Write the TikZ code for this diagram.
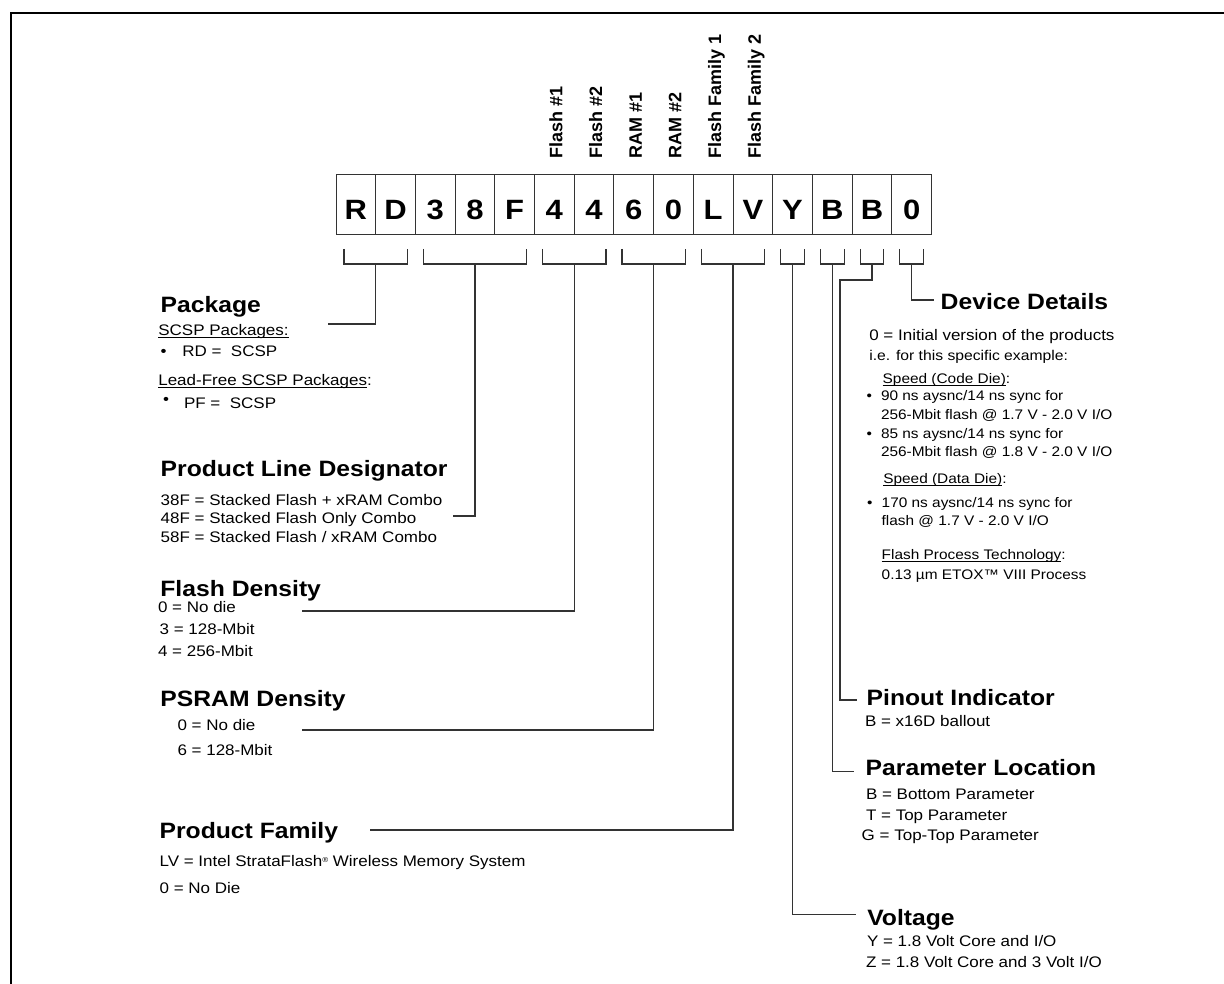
\documentclass[tikz,border=0pt]{standalone}
\usepackage{fontspec}
\setmainfont{Liberation Sans}
\usetikzlibrary{calc}
\newcommand\myul[1]{\setbox0\hbox{#1}\rlap{\rule[-2.6pt]{\wd0}{0.9pt}}\box0}
\newcommand\regmark{{\fontsize{8}{8}\selectfont\raisebox{5pt}{®}}}
\newcommand\mybrk[3]{%
  \draw[conn] ($(b#1.south west)+(8,15)$) -- ($(b#1.south west)+(8,30)$) -- ($(b#2.south east)+(-8,30)$) -- ($(b#2.south east)+(-8,15)$);
  \coordinate (#3) at ($(b#1.south west)!0.5!(b#2.south east)+(0,30)$);
}
\begin{document}
\begin{tikzpicture}[x=1pt,y=-1pt,
  txt/.style={anchor=base west, inner sep=0pt, outer sep=0pt, yscale=0.9, font=\fontsize{17}{20}\selectfont},
  stxt/.style={txt, font=\fontsize{15.4}{18}\selectfont},
  head/.style={anchor=base west, inner sep=0pt, outer sep=0pt, yscale=0.9, font=\fontsize{24.7}{28}\selectfont\bfseries},
  cell/.style={draw=black!80, line width=0.9pt, minimum width=39.7pt, minimum height=60pt, inner sep=0pt, outer sep=0pt, anchor=north west},
  letter/.style={anchor=base, inner sep=0pt, yscale=0.9, font=\fontsize{31}{34}\selectfont\bfseries},
  vlab/.style={rotate=90, anchor=base west, inner sep=0pt, font=\fontsize{18}{20}\selectfont\bfseries},
  conn/.style={draw=black!80, line width=1.2pt},
  frame/.style={line width=2pt}
]
\useasboundingbox (0,0) rectangle (1224,984);
% frame
\coordinate (f0) at (11,984);
\coordinate (f1) at (11,13);
\coordinate (f2) at (1224,13);
\draw[frame] (f0) -- (f1) -- (f2);

% cells
\foreach \c [count=\i] in {R,D,3,8,F,4,4,6,0,L,V,Y,B,B,0} {
  \node[cell] (b\i) at ({336+39.7*(\i-1)},174) {};
  \node[letter] (t\i) at ({336+39.7*(\i-0.5)},220) {\c};
}

% vertical labels
\node[vlab] (v6) at ($(b6.north)+(8,-15)$) {Flash \#1};
\node[vlab] (v7) at ($(b7.north)+(8,-15)$) {Flash \#2};
\node[vlab] (v8) at ($(b8.north)+(8,-15)$) {RAM \#1};
\node[vlab] (v9) at ($(b9.north)+(8,-15)$) {RAM \#2};
\node[vlab] (v10) at ($(b10.north)+(8,-15)$) {Flash Family 1};
\node[vlab] (v11) at ($(b11.north)+(8,-15)$) {Flash Family 2};

% brackets
\mybrk{1}{2}{s1}
\mybrk{3}{5}{s2}
\mybrk{6}{7}{s3}
\mybrk{8}{9}{s4}
\mybrk{10}{11}{s5}
\mybrk{12}{12}{s6}
\mybrk{13}{13}{s7}
\mybrk{14}{14}{s8}
\mybrk{15}{15}{s9}

% connector ends
\coordinate (c1) at (327.7,324);
\coordinate (c2) at (452.7,516);
\coordinate (c3) at (302.4,611);
\coordinate (c4) at (302.4,730);
\coordinate (c5) at (369.8,830);
\coordinate (c6) at (856,914.3);
\coordinate (c7) at (854,771.7);
\coordinate (c8a) at (840,280);
\coordinate (c8) at (856.7,700);
\coordinate (c9) at (934,300);
\draw[conn] (s1) |- (c1);
\draw[conn] (s2) |- (c2);
\draw[conn] (s3) |- (c3);
\draw[conn] (s4) |- (c4);
\draw[conn] (s5) |- (c5);
\draw[conn] (s6) |- (c6);
\draw[conn] (s7) |- (c7);
\draw[conn] (s8) |- (c8a) |- (c8);
\draw[conn] (s9) |- (c9);

% Package
\node[head] (pkg) at (160.7,312.3) {Package};
\node[txt] (pkg1) at (158.3,335.5) {\myul{SCSP Packages:}};
\node[txt] (pkg2b) at (160.7,357) {•};
\node[txt] (pkg2) at (182.3,357) {RD =\ \ SCSP};
\node[txt] (pkg3) at (158.3,385) {\myul{Lead-Free SCSP Packages}:};
\node[txt] (pkg4b) at (163,404) {•};
\node[txt] (pkg4) at (184,408) {PF =\ \ SCSP};

% Product Line Designator
\node[head] (pld) at (160.7,476.7) {Product Line Designator};
\node[txt] (pld1) at (160.7,505) {38F = Stacked Flash + xRAM Combo};
\node[txt] (pld2) at (160.7,523.5) {48F = Stacked Flash Only Combo};
\node[txt] (pld3) at (160.7,542.7) {58F = Stacked Flash / xRAM Combo};

% Flash Density
\node[head] (fd) at (160.4,596) {Flash Density};
\node[txt] (fd1) at (158,612.7) {0 = No die};
\node[txt] (fd2) at (159.6,634) {3 = 128-Mbit};
\node[txt] (fd3) at (158,656) {4 = 256-Mbit};

% PSRAM Density
\node[head] (pd) at (160.4,706.7) {PSRAM Density};
\node[txt] (pd1) at (177.5,730.7) {0 = No die};
\node[txt] (pd2) at (177.5,755) {6 = 128-Mbit};

% Product Family
\node[head] (pf) at (159.6,838) {Product Family};
\node[txt] (pf1) at (159.6,866.7) {LV = Intel StrataFlash\regmark\ Wireless Memory System};
\node[txt] (pf2) at (159.6,893.3) {0 = No Die};

% Device Details
\node[head] (dd) at (940.7,309.3) {Device Details};
\node[txt] (dd1) at (869.3,340.7) {0 = Initial version of the products};
\node[stxt, font=\fontsize{15.7}{18}\selectfont] (dd2) at (869.3,360) {i.e. for this specific example:};
\node[stxt] (dd3) at (882.7,383.3) {\myul{Speed (Code Die)}:};
\node[stxt] (dd4b) at (866.7,400.7) {•};
\node[stxt] (dd4) at (881,400.7) {90 ns aysnc/14 ns sync for};
\node[stxt] (dd5) at (881,419.3) {256-Mbit flash @ 1.7 V - 2.0 V I/O};
\node[stxt] (dd6b) at (866.7,438.5) {•};
\node[stxt] (dd6) at (881,438.5) {85 ns aysnc/14 ns sync for};
\node[stxt] (dd7) at (881,456) {256-Mbit flash @ 1.8 V - 2.0 V I/O};
\node[stxt] (dd8) at (883.3,483.3) {\myul{Speed (Data Die)}:};
\node[stxt] (dd9b) at (867,507.3) {•};
\node[stxt] (dd9) at (881.7,507.3) {170 ns aysnc/14 ns sync for};
\node[stxt] (dd10) at (881.7,525) {flash @ 1.7 V - 2.0 V I/O};
\node[stxt] (dd11) at (881.7,559.3) {\myul{Flash Process Technology}:};
\node[stxt] (dd12) at (881.7,579) {0.13 µm ETOX™ VIII Process};

% Pinout Indicator
\node[head] (pi) at (866.7,705.7) {Pinout Indicator};
\node[txt] (pi1) at (865,726.7) {B = x16D ballout};

% Parameter Location
\node[head] (pl) at (865.7,775.7) {Parameter Location};
\node[txt] (pl1) at (866,799.3) {B = Bottom Parameter};
\node[txt] (pl2) at (866,820) {T = Top Parameter};
\node[txt] (pl3) at (861.7,840.7) {G = Top-Top Parameter};

% Voltage
\node[head] (vo) at (867.3,925) {Voltage};
\node[txt] (vo1) at (867,946) {Y = 1.8 Volt Core and I/O};
\node[txt] (vo2) at (866,967.7) {Z = 1.8 Volt Core and 3 Volt I/O};
\end{tikzpicture}
\end{document}
